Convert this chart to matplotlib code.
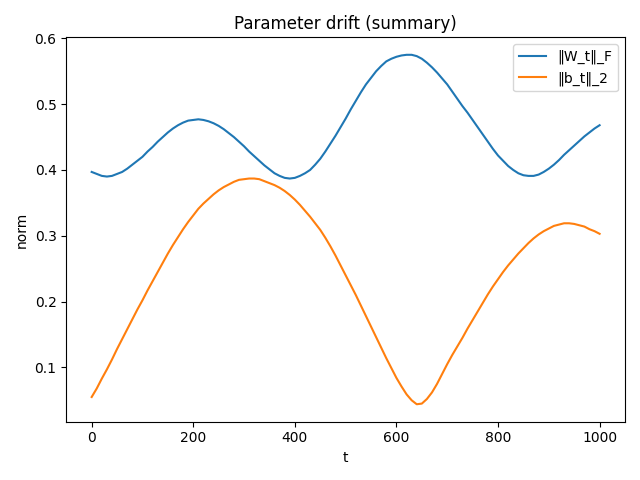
import matplotlib
matplotlib.use("Agg")
import matplotlib.pyplot as plt

t = list(range(0, 1001, 10))

w_norm = [0.397, 0.394, 0.391, 0.390, 0.391, 0.394, 0.397, 0.402, 0.408, 0.414,
          0.420, 0.428, 0.435, 0.443, 0.450, 0.457, 0.463, 0.468, 0.472, 0.475,
          0.476, 0.477, 0.476, 0.474, 0.471, 0.467, 0.462, 0.456, 0.450, 0.443,
          0.436, 0.428, 0.421, 0.414, 0.407, 0.401, 0.395, 0.391, 0.388, 0.387,
          0.388, 0.391, 0.395, 0.400, 0.408, 0.417, 0.428, 0.440, 0.452, 0.465,
          0.478, 0.492, 0.505, 0.518, 0.530, 0.540, 0.550, 0.558, 0.565, 0.569,
          0.572, 0.574, 0.575, 0.575, 0.573, 0.569, 0.563, 0.556, 0.548, 0.539,
          0.530, 0.519, 0.508, 0.497, 0.487, 0.476, 0.465, 0.454, 0.443, 0.432,
          0.422, 0.414, 0.406, 0.400, 0.395, 0.392, 0.391, 0.391, 0.393, 0.397,
          0.402, 0.408, 0.415, 0.423, 0.430, 0.437, 0.444, 0.451, 0.457, 0.463,
          0.468]

b_norm = [0.055, 0.068, 0.083, 0.097, 0.112, 0.128, 0.143, 0.158, 0.173, 0.188,
          0.202, 0.217, 0.231, 0.245, 0.259, 0.273, 0.286, 0.298, 0.310, 0.321,
          0.331, 0.341, 0.349, 0.356, 0.363, 0.369, 0.374, 0.378, 0.382, 0.385,
          0.386, 0.387, 0.387, 0.386, 0.383, 0.380, 0.377, 0.373, 0.368, 0.362,
          0.355, 0.347, 0.338, 0.329, 0.319, 0.309, 0.297, 0.284, 0.270, 0.255,
          0.240, 0.225, 0.210, 0.194, 0.178, 0.162, 0.146, 0.130, 0.114, 0.099,
          0.084, 0.071, 0.059, 0.050, 0.044, 0.045, 0.052, 0.062, 0.075, 0.090,
          0.105, 0.119, 0.132, 0.145, 0.159, 0.172, 0.185, 0.198, 0.211, 0.223,
          0.234, 0.245, 0.255, 0.264, 0.273, 0.281, 0.289, 0.296, 0.302, 0.307,
          0.311, 0.315, 0.317, 0.319, 0.319, 0.318, 0.316, 0.314, 0.310, 0.307,
          0.303]

plt.figure(figsize=(6.4, 4.8), dpi=100)
plt.plot(t, w_norm, label="‖W_t‖_F")
plt.plot(t, b_norm, label="‖b_t‖_2")
plt.xlabel("t")
plt.ylabel("norm")
plt.title("Parameter drift (summary)")
plt.legend(loc="upper right")
plt.tight_layout()
plt.savefig("out.png")
